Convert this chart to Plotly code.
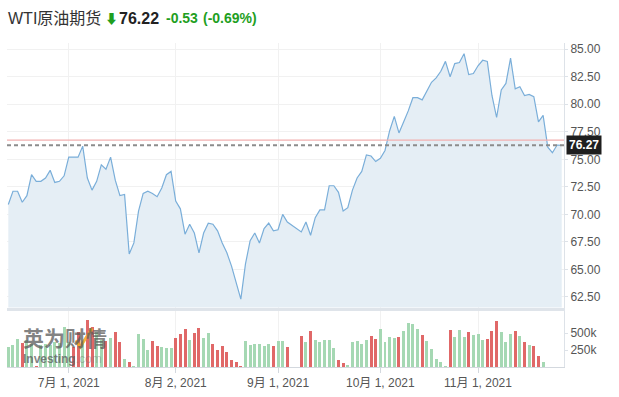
import pandas as pd
import plotly.graph_objects as go
from plotly.subplots import make_subplots

# ---------------- data ----------------
dates = [d.strftime('%Y-%m-%d') for d in pd.bdate_range('2021-06-14', '2021-11-25')]
dates.insert(dates.index('2021-07-05'), '2021-07-04')  # Sunday session bar

price = [
    70.9, 72.1, 72.1, 71.1, 71.7, 73.6, 73.0, 73.0, 73.3, 74.0,
    72.9, 73.0, 73.5, 75.2, 75.2, 75.2, 76.2, 73.3, 72.2, 73.0,
    74.5, 74.1, 75.2, 73.1, 71.7, 71.8, 66.4, 67.4, 70.3, 71.9,
    72.1, 71.9, 71.6, 72.4, 73.6, 73.9, 71.2, 70.5, 68.2, 69.1,
    68.3, 66.5, 68.3, 69.2, 69.1, 68.5, 67.4, 66.5, 65.3, 63.8,
    62.3, 65.5, 67.6, 68.3, 67.4, 68.7, 69.2, 68.5, 68.6, 70.0,
    69.3, None, None, 68.4, 69.3, 68.1, 69.7, 70.4, 70.4, 72.6,
    72.6, 72.0, 70.3, 70.6, 72.2, 73.3, 73.9, 75.4, 75.3, 74.8,
    75.1, 75.8, 77.6, 78.9, 77.4, 78.4, 79.4, 80.6, 80.6, 80.4,
    81.2, 82.0, 82.4, 83.0, 83.9, 82.5, 83.7, 83.8, 84.6, 82.7,
    82.8, 83.5, 84.0, 83.9, 80.8, 78.8, 81.3, 81.9, 84.2, 81.4,
    81.6, 80.8, 80.9, 80.7, 78.4, 79.0, 76.1, 75.6, 76.3, 76.27,
]

volume_k = [
    300, 330, 417, 359, 400, 350, 24, 330, 340, 330,
    380, 360, 597, 380, 300, 520, 350, 694, 592, 524,
    403, 388, 437, 519, 373, 126, 82, 29, 495, 417,
    257, 388, 315, 300, 291, 286, 432, 495, 563, 407,
    509, 577, 432, 509, 349, 257, 315, 233, 116, 82,
    29, 388, 325, 344, 344, 315, 344, 315, 393, 393,
    300, None, None, 461, 373, 534, 403, 373, 403, 403,
    286, 112, 63, 34, 373, 388, 344, 403, 461, 417,
    563, 373, 446, 432, 446, 534, 650, 635, 563, 475,
    388, 272, 126, 82, 24, 548, 446, 548, 446, 519,
    475, 490, 403, 417, 534, 679, 519, 373, 490, 534,
    461, 373, 330, 315, 170, 82, None, None, None, None,
]
# G = up day (green), R = down day (red), - = no bar
vol_dir = ("GGGRGGRGGG" "GGGGRRGRRG" "GRGRRGRGGG" "GRRGGGRRRG" "RRGGRRRRRR"
           "RGGGGGGRGG" "R--RGRGGGG" "GRRGGGGGRR" "GGGGRGGGGR" "GGGGGRGGGR"
           "GGGRRRGGGR" "GRGRRG----")

tick_dates = ['2021-07-01', '2021-08-02', '2021-09-01', '2021-10-01', '2021-11-01']
tick_text = ['7月 1, 2021', '8月 2, 2021', '9月 1, 2021', '10月 1, 2021', '11月 1, 2021']
price_ticks = [62.5, 65.0, 67.5, 70.0, 72.5, 75.0, 77.5, 80.0, 82.5, 85.0]
vol_ticks = [250, 500]
vol_tick_text = ['250k', '500k']

prev_close = 76.75
last_price = 76.27
title_name = 'WTI原油期货'
title_last = '76.22'
title_chg = '-0.53'
title_pct = '(-0.69%)'

# ---------------- styles ----------------
GREEN_BAR = '#a5d8b3'
RED_BAR = '#e06868'
UP_GREEN = '#1f9f1f'
FONT = 'Liberation Sans, Arial, Noto Sans CJK SC, sans-serif'
AXIS_LINE = '#dde2e8'
GRID = '#f1f1f1'
LABEL = '#555555'

bar_colors = [GREEN_BAR if c == 'G' else RED_BAR for c in vol_dir]

fig = make_subplots(rows=2, cols=1, shared_xaxes=True, vertical_spacing=0.01)

fig.add_trace(go.Scatter(
    x=dates, y=price, mode='lines', connectgaps=True,
    line=dict(color='#7aaed9', width=1.2),
    fill='tozeroy', fillcolor='#e5eef5', hoverinfo='skip'), row=1, col=1)

fig.add_trace(go.Bar(
    x=dates, y=volume_k, marker=dict(color=bar_colors, line=dict(width=0)),
    width=0.64, hoverinfo='skip'), row=2, col=1)

xrange = [-0.28, len(dates) - 1 + 0.49]

fig.update_layout(
    width=619, height=397,
    margin=dict(l=7, r=55, t=43, b=27),
    paper_bgcolor='white', plot_bgcolor='white',
    showlegend=False, hovermode=False,
    font=dict(family=FONT, size=12, color=LABEL),
    bargap=0,
)

common_x = dict(type='category', range=xrange, tickvals=tick_dates,
                showgrid=True, gridcolor=GRID, gridwidth=1, zeroline=False,
                categoryorder='array', categoryarray=dates)
fig.update_xaxes(**common_x, showticklabels=False, ticks='', showline=True,
                 linecolor='#dfe4ea', linewidth=3, row=1, col=1)
fig.update_xaxes(**common_x, ticktext=tick_text, showticklabels=True,
                 ticks='outside', ticklen=5, tickcolor='#d3d8de',
                 showline=True, linecolor='#d3d8de', linewidth=1,
                 tickfont=dict(size=12, color=LABEL, family=FONT), row=2, col=1)

fig.update_yaxes(side='right', range=[61.53, 85.57], tickvals=price_ticks,
                 tickformat='.2f', showgrid=True, gridcolor=GRID, zeroline=False,
                 showline=True, linecolor=AXIS_LINE, ticks='outside', ticklen=3,
                 tickcolor=AXIS_LINE, tickfont=dict(size=12, color=LABEL, family=FONT),
                 domain=[0.1835, 1.0], row=1, col=1)
fig.update_yaxes(side='right', range=[0, 831], tickvals=vol_ticks,
                 ticktext=vol_tick_text, showgrid=False, zeroline=False,
                 showline=True, linecolor=AXIS_LINE, ticks='outside', ticklen=3,
                 tickcolor=AXIS_LINE, tickfont=dict(size=12, color=LABEL, family=FONT),
                 domain=[0.0, 0.1743], row=2, col=1)

# reference lines
fig.add_hline(y=prev_close, line=dict(color='#f2b0b0', width=1.2), row=1, col=1)
fig.add_hline(y=last_price, line=dict(color='#8c8c8c', width=2, dash='4px,3px'), row=1, col=1)

# last price tag
fig.add_annotation(xref='paper', x=1, xanchor='left', xshift=2,
                   yref='y', y=last_price, yanchor='middle',
                   text='<b>%.2f</b>' % last_price, showarrow=False,
                   font=dict(color='white', size=12, family=FONT),
                   bgcolor='#1e1e1e', borderpad=2)

# header
def head(text, shift, size, color):
    fig.add_annotation(xref='paper', yref='paper', x=0, y=1, xanchor='left',
                       yanchor='middle', xshift=shift, yshift=25, text=text,
                       showarrow=False, font=dict(size=size, color=color, family=FONT))

head(title_name, -1, 16, '#333333')
head('⬇', 96, 13, UP_GREEN)
head('<b>%s</b>' % title_last, 110, 16, '#222222')
head('<b>%s</b>' % title_chg, 157, 14, UP_GREEN)
head('<b>%s</b>' % title_pct, 194, 14, UP_GREEN)

# watermark
fig.add_annotation(xref='paper', yref='paper', x=(65 - 7) / 557, y=(370 - 340) / 327,
                   text='<b>英为财情</b>', showarrow=False, xanchor='center', yanchor='middle',
                   borderpad=0,
                   font=dict(size=21, color='rgba(90,90,90,0.75)',
                             family='Noto Sans CJK SC, sans-serif'))
fig.add_annotation(xref='paper', yref='paper', x=(22 - 7) / 557, y=(370 - 362) / 327,
                   text='<b>Investing</b><span style="color:rgba(120,120,120,0.6)">.com</span>',
                   showarrow=False, xanchor='left', yanchor='middle', borderpad=0,
                   font=dict(size=12, color='rgba(90,90,90,0.75)', family=FONT))
fig.add_shape(type='path', xref='paper', yref='paper',
              path='M %f %f L %f %f L %f %f' % ((76 - 7) / 557, (370 - 343) / 327,
                                                (80 - 7) / 557, (370 - 350) / 327,
                                                (92 - 7) / 557, (370 - 331) / 327),
              line=dict(color='rgba(245,168,40,0.9)', width=3))

fig.write_html('out.html')
